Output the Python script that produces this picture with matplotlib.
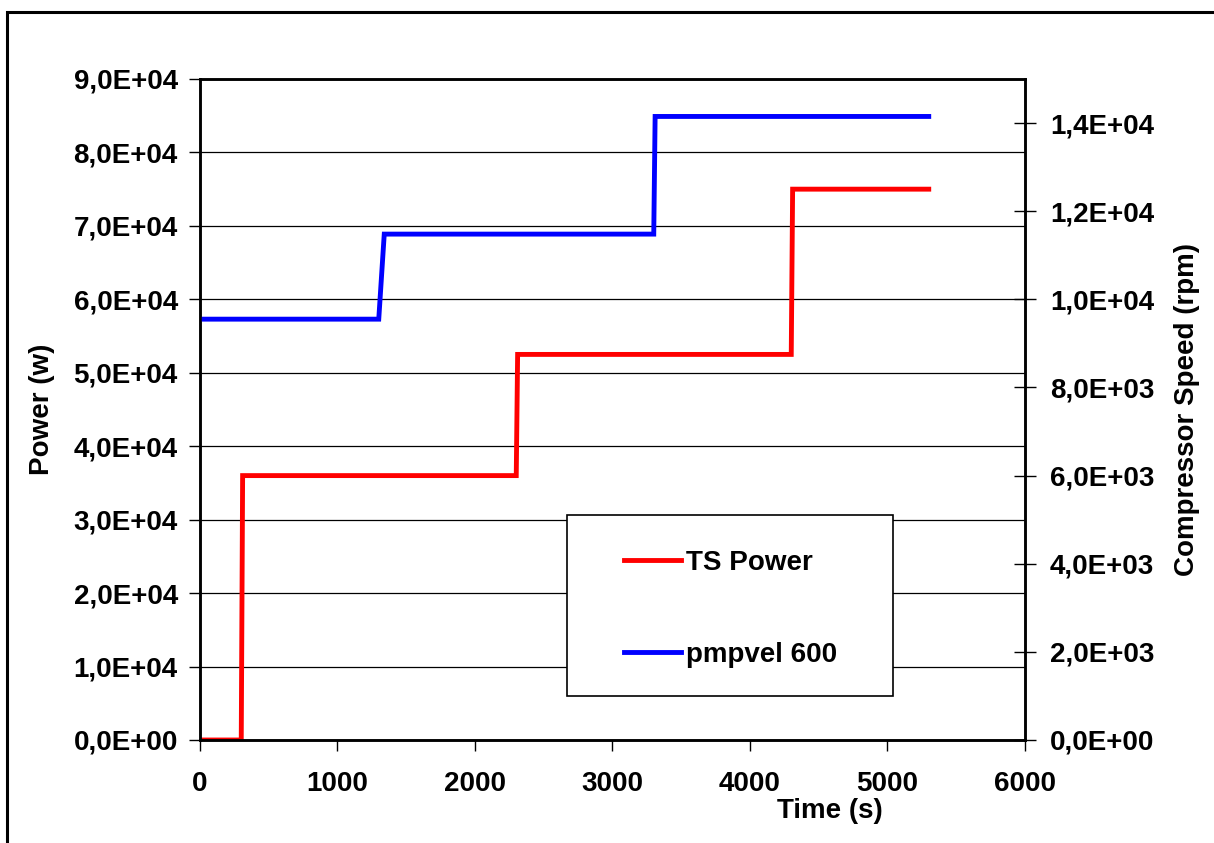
import matplotlib
matplotlib.use("Agg")
import matplotlib.pyplot as plt
from matplotlib.patches import Rectangle
from matplotlib.ticker import FuncFormatter

# TS Power (left axis), step changes with a short ramp
power_t = [0, 300, 310, 2300, 2310, 4300, 4310, 5300]
power_w = [0, 0, 36000, 36000, 52500, 52500, 75000, 75000]

# compressor speed (right axis)
speed_t = [0, 1300, 1340, 3300, 3310, 5300]
speed_rpm = [9550, 9550, 11480, 11480, 14150, 14150]

left_ticks = [0, 10000, 20000, 30000, 40000, 50000, 60000, 70000, 80000, 90000]
right_ticks = [0, 2000, 4000, 6000, 8000, 10000, 12000, 14000]
x_ticks = [0, 1000, 2000, 3000, 4000, 5000, 6000]

plt.rcParams["font.family"] = ["Liberation Sans", "DejaVu Sans"]
plt.rcParams["font.weight"] = "bold"
FS = 20


def sci_comma(v, pos):
    s = f"{v:.1E}"
    return s.replace(".", ",")


fig = plt.figure(figsize=(12.14, 8.43), dpi=100)
ax = fig.add_axes([200 / 1214, 1 - 740 / 843, 825 / 1214, 661 / 843])
ax2 = ax.twinx()

# outer frame of the chart
fig.patches.append(Rectangle((7 / 1214, -0.1), 1.2, 1 - 12 / 843 + 0.1,
                             transform=fig.transFigure, fill=False,
                             edgecolor="black", linewidth=2.2))

ax.set_xlim(0, 6000)
ax.set_ylim(0, 90000)
ax2.set_ylim(0, 15000)

ax.set_yticks(left_ticks)
ax2.set_yticks(right_ticks)
ax.set_xticks(x_ticks)
ax.yaxis.set_major_formatter(FuncFormatter(sci_comma))
ax2.yaxis.set_major_formatter(FuncFormatter(sci_comma))

ax.grid(axis="y", color="black", linewidth=0.9)
ax.set_axisbelow(True)

l1, = ax.plot(power_t, power_w, color="#ff0000", linewidth=3.5, label="TS Power",
              solid_joinstyle="miter")
l2, = ax2.plot(speed_t, speed_rpm, color="#0000ff", linewidth=3.5, label="pmpvel 600",
               solid_joinstyle="miter")

for a in (ax, ax2):
    for sp in a.spines.values():
        sp.set_linewidth(1.8)
        sp.set_color("black")

ax.tick_params(axis="y", direction="out", length=8, width=1, labelsize=FS, pad=8)
ax.tick_params(axis="x", direction="out", length=8, width=1, labelsize=FS, pad=14)
ax2.tick_params(axis="y", direction="inout", length=16, width=1, labelsize=FS, pad=10)
for lab in ax.get_xticklabels() + ax.get_yticklabels() + ax2.get_yticklabels():
    lab.set_fontweight("bold")

ax.set_ylabel("Power (w)", fontsize=FS, fontweight="bold", labelpad=13)
ax2.set_ylabel("Compressor Speed (rpm)", fontsize=FS, fontweight="bold", labelpad=14)
ax.set_xlabel("Time (s)", fontsize=FS, fontweight="bold")
ax.xaxis.set_label_coords((830 - 200) / 825, -(798 - 740) / 661)

# legend box drawn separately so its padding matches the original
ax2.add_patch(Rectangle(((567 - 200) / 825, (740 - 696) / 661), (893 - 567) / 825,
                        (696 - 515) / 661, transform=ax2.transAxes,
                        facecolor="white", edgecolor="black", linewidth=1.2, zorder=5))
leg = ax2.legend(handles=[l1, l2], frameon=False, loc="upper left",
                 bbox_to_anchor=((624 - 200) / 825, (740 - 550) / 661),
                 fontsize=FS, labelspacing=2.36, handlelength=2.05,
                 handletextpad=0.2, borderpad=0, borderaxespad=0)
leg.set_zorder(6)
for t in leg.get_texts():
    t.set_fontweight("bold")

fig.savefig("out.png", dpi=100)
